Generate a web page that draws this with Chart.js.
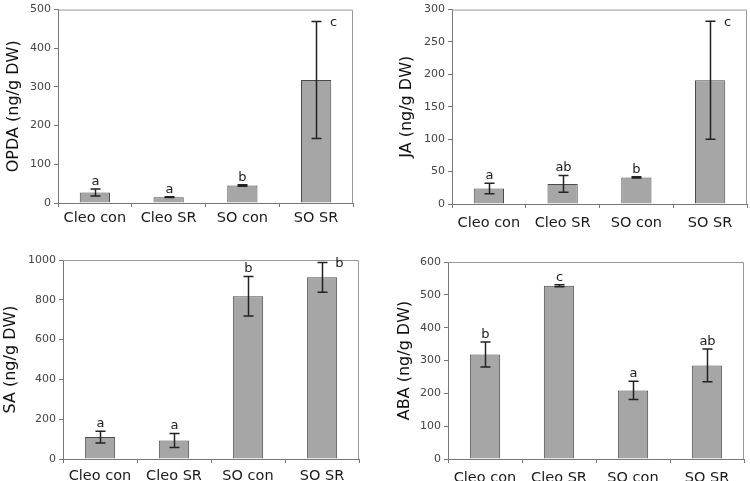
<!DOCTYPE html>
<html>
<head>
<meta charset="utf-8">
<script src="https://cdn.jsdelivr.net/npm/chart.js@4.4.1/dist/chart.umd.min.js"></script>
<style>
  html, body { margin: 0; padding: 0; background: #fff; }
  #wrap { position: relative; width: 750px; height: 481px; overflow: hidden; }
  canvas { position: absolute; }
</style>
</head>
<body>
<div id="wrap">
  <canvas id="opda" width="375" height="240" style="left:0;top:0"></canvas>
  <canvas id="ja" width="375" height="240" style="left:375px;top:0"></canvas>
  <canvas id="sa" width="375" height="241" style="left:0;top:240px"></canvas>
  <canvas id="aba" width="375" height="241" style="left:375px;top:240px"></canvas>
</div>
<script>
const categories = ['Cleo con', 'Cleo SR', 'SO con', 'SO SR'];

const opdaValues = [27, 15, 45, 318];
const opdaErrors = [9, 1, 2, 151];
const opdaLetters = ['a', 'a', 'b', 'c'];

const jaValues = [24, 31, 41, 191];
const jaErrors = [8, 13, 1, 91];
const jaLetters = ['a', 'ab', 'b', 'c'];

const saValues = [110, 93, 818, 913];
const saErrors = [30, 35, 99, 75];
const saLetters = ['a', 'a', 'b', 'b'];

const abaValues = [318, 528, 209, 285];
const abaErrors = [38, 3, 28, 50];
const abaLetters = ['b', 'c', 'a', 'ab'];

Chart.defaults.font.family = '"DejaVu Sans", sans-serif';

// error bars + significance letters, plus the grey frame on top/right
const extras = {
  id: 'extras',
  afterDatasetsDraw(chart, args, opts) {
    const ctx = chart.ctx;
    const x = chart.scales.x, y = chart.scales.y;
    const area = chart.chartArea;
    ctx.save();
    ctx.strokeStyle = '#999';
    ctx.lineWidth = 1;
    ctx.beginPath();
    ctx.moveTo(area.left, area.top + 0.5);
    ctx.lineTo(area.right - 0.5, area.top + 0.5);
    ctx.lineTo(area.right - 0.5, area.bottom);
    ctx.stroke();

    ctx.strokeStyle = '#222';
    ctx.lineWidth = 1.5;
    ctx.fillStyle = '#222';
    ctx.font = '13px "DejaVu Sans", sans-serif';
    ctx.textAlign = 'center';
    opts.values.forEach((v, i) => {
      const cx = Math.round(x.getPixelForValue(i)) + 0.5;
      const hi = y.getPixelForValue(v + opts.errors[i]);
      const lo = y.getPixelForValue(v - opts.errors[i]);
      ctx.beginPath();
      ctx.moveTo(cx, hi); ctx.lineTo(cx, lo);
      ctx.moveTo(cx - 5, hi); ctx.lineTo(cx + 5, hi);
      ctx.moveTo(cx - 5, lo); ctx.lineTo(cx + 5, lo);
      ctx.stroke();
      if (hi - 16 < area.top) {
        ctx.textBaseline = 'middle';
        ctx.fillText(opts.letters[i], cx + 17, hi + 1);
      } else {
        ctx.textBaseline = 'bottom';
        ctx.fillText(opts.letters[i], cx, hi - 1);
      }
    });
    ctx.restore();
  }
};

function makeChart(id, values, errors, letters, title, max, step, g) {
  new Chart(document.getElementById(id), {
    type: 'bar',
    plugins: [extras],
    data: {
      labels: categories,
      datasets: [{
        data: values,
        backgroundColor: '#a6a6a6',
        borderColor: '#4a4a4a',
        borderWidth: 1,
        categoryPercentage: 1,
        barPercentage: 0.41
      }]
    },
    options: {
      responsive: false,
      animation: false,
      devicePixelRatio: 1,
      layout: { padding: { top: g.top, right: g.right, left: 0, bottom: 0 } },
      plugins: {
        legend: { display: false },
        tooltip: { enabled: false },
        extras: { values: values, errors: errors, letters: letters }
      },
      scales: {
        x: {
          afterFit: function (s) { s.height = g.xh; },
          border: { color: '#777' },
          grid: { offset: true, drawOnChartArea: false, tickLength: 4, color: '#777' },
          ticks: { color: '#1a1a1a', font: { size: 14.5 }, padding: g.xpad, maxRotation: 0 }
        },
        y: {
          min: 0,
          max: max,
          afterFit: function (s) { s.width = g.yw; },
          border: { color: '#777' },
          grid: { drawOnChartArea: false, tickLength: 4, color: '#777' },
          ticks: {
            stepSize: step, color: '#444', font: { size: 11 }, padding: 3,
            callback: function (v) { return String(v); }
          },
          title: {
            display: true,
            text: title,
            color: '#111',
            font: { size: 16 },
            padding: { top: g.tpad, bottom: 0 }
          }
        }
      }
    }
  });
}

makeChart('opda', opdaValues, opdaErrors, opdaLetters, 'OPDA (ng/g DW)', 500, 100,
  { top: 5, right: 22, yw: 58, xh: 37, xpad: 3, tpad: 4 });
makeChart('ja', jaValues, jaErrors, jaLetters, 'JA (ng/g DW)', 300, 50,
  { top: 6, right: 3, yw: 77, xh: 36, xpad: 7, tpad: 22 });
makeChart('sa', saValues, saErrors, saLetters, 'SA (ng/g DW)', 1000, 200,
  { top: 20, right: 16, yw: 63, xh: 22, xpad: 5, tpad: 1.5 });
makeChart('aba', abaValues, abaErrors, abaLetters, 'ABA (ng/g DW)', 600, 100,
  { top: 22, right: 6, yw: 73, xh: 22, xpad: 7, tpad: 20 });
</script>
</body>
</html>
